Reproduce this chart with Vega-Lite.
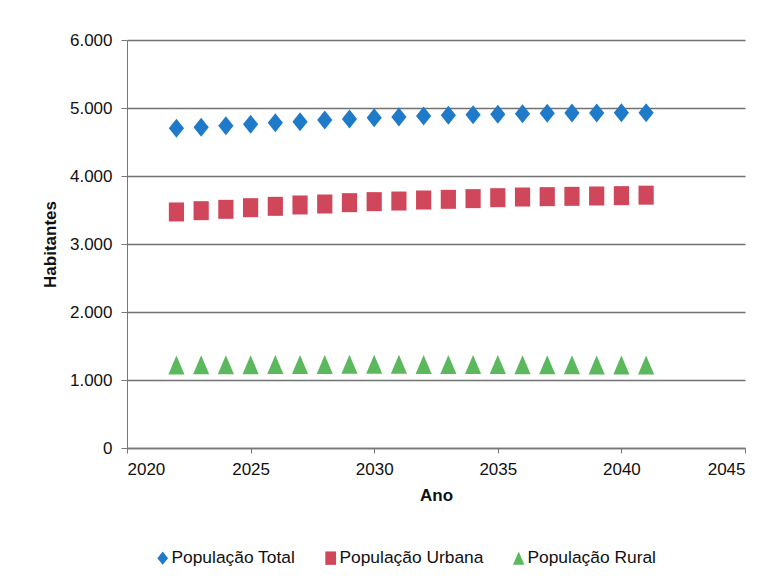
{
  "$schema": "https://vega.github.io/schema/vega-lite/v6.json",
  "autosize": {"type": "none"},
  "width": 618,
  "height": 408,
  "padding": {"left": 127, "top": 40, "right": 39, "bottom": 138},
  "background": "white",
  "config": {
    "view": {"stroke": null},
    "font": "Liberation Sans"
  },
  "data": {
    "values": [
      {"ano": 2022, "serie": "População Total", "valor": 4701},
      {"ano": 2023, "serie": "População Total", "valor": 4716},
      {"ano": 2024, "serie": "População Total", "valor": 4740},
      {"ano": 2025, "serie": "População Total", "valor": 4760},
      {"ano": 2026, "serie": "População Total", "valor": 4784},
      {"ano": 2027, "serie": "População Total", "valor": 4799},
      {"ano": 2028, "serie": "População Total", "valor": 4824},
      {"ano": 2029, "serie": "População Total", "valor": 4838},
      {"ano": 2030, "serie": "População Total", "valor": 4858},
      {"ano": 2031, "serie": "População Total", "valor": 4868},
      {"ano": 2032, "serie": "População Total", "valor": 4882},
      {"ano": 2033, "serie": "População Total", "valor": 4892},
      {"ano": 2034, "serie": "População Total", "valor": 4902},
      {"ano": 2035, "serie": "População Total", "valor": 4907},
      {"ano": 2036, "serie": "População Total", "valor": 4917},
      {"ano": 2037, "serie": "População Total", "valor": 4922},
      {"ano": 2038, "serie": "População Total", "valor": 4926},
      {"ano": 2039, "serie": "População Total", "valor": 4926},
      {"ano": 2040, "serie": "População Total", "valor": 4931},
      {"ano": 2041, "serie": "População Total", "valor": 4931},
      {"ano": 2022, "serie": "População Urbana", "valor": 3471},
      {"ano": 2023, "serie": "População Urbana", "valor": 3490},
      {"ano": 2024, "serie": "População Urbana", "valor": 3510},
      {"ano": 2025, "serie": "População Urbana", "valor": 3534},
      {"ano": 2026, "serie": "População Urbana", "valor": 3554},
      {"ano": 2027, "serie": "População Urbana", "valor": 3574},
      {"ano": 2028, "serie": "População Urbana", "valor": 3588},
      {"ano": 2029, "serie": "População Urbana", "valor": 3608},
      {"ano": 2030, "serie": "População Urbana", "valor": 3623},
      {"ano": 2031, "serie": "População Urbana", "valor": 3632},
      {"ano": 2032, "serie": "População Urbana", "valor": 3647},
      {"ano": 2033, "serie": "População Urbana", "valor": 3657},
      {"ano": 2034, "serie": "População Urbana", "valor": 3667},
      {"ano": 2035, "serie": "População Urbana", "valor": 3681},
      {"ano": 2036, "serie": "População Urbana", "valor": 3691},
      {"ano": 2037, "serie": "População Urbana", "valor": 3696},
      {"ano": 2038, "serie": "População Urbana", "valor": 3701},
      {"ano": 2039, "serie": "População Urbana", "valor": 3706},
      {"ano": 2040, "serie": "População Urbana", "valor": 3711},
      {"ano": 2041, "serie": "População Urbana", "valor": 3718},
      {"ano": 2022, "serie": "População Rural", "valor": 1222},
      {"ano": 2023, "serie": "População Rural", "valor": 1223},
      {"ano": 2024, "serie": "População Rural", "valor": 1225},
      {"ano": 2025, "serie": "População Rural", "valor": 1226},
      {"ano": 2026, "serie": "População Rural", "valor": 1227},
      {"ano": 2027, "serie": "População Rural", "valor": 1228},
      {"ano": 2028, "serie": "População Rural", "valor": 1229},
      {"ano": 2029, "serie": "População Rural", "valor": 1230},
      {"ano": 2030, "serie": "População Rural", "valor": 1230},
      {"ano": 2031, "serie": "População Rural", "valor": 1230},
      {"ano": 2032, "serie": "População Rural", "valor": 1229},
      {"ano": 2033, "serie": "População Rural", "valor": 1229},
      {"ano": 2034, "serie": "População Rural", "valor": 1228},
      {"ano": 2035, "serie": "População Rural", "valor": 1227},
      {"ano": 2036, "serie": "População Rural", "valor": 1226},
      {"ano": 2037, "serie": "População Rural", "valor": 1225},
      {"ano": 2038, "serie": "População Rural", "valor": 1224},
      {"ano": 2039, "serie": "População Rural", "valor": 1222},
      {"ano": 2040, "serie": "População Rural", "valor": 1221},
      {"ano": 2041, "serie": "População Rural", "valor": 1219}
    ]
  },
  "mark": {"type": "point", "filled": true, "size": 361, "opacity": 1},
  "encoding": {
    "x": {
      "field": "ano",
      "type": "quantitative",
      "scale": {"domain": [2020, 2045], "nice": false, "zero": false},
      "axis": {
        "title": "Ano",
        "values": [2020, 2025, 2030, 2035, 2040, 2045],
        "format": "d",
        "grid": false,
        "domainColor": "#777777",
        "domainWidth": 1.5,
        "tickColor": "#777777",
        "tickSize": 5,
        "labelFontSize": 17,
        "labelColor": "#111111",
        "labelPadding": 8,
        "titleFontSize": 17,
        "titleFontWeight": "bold",
        "titleColor": "#111111",
        "titlePadding": 10
      }
    },
    "y": {
      "field": "valor",
      "type": "quantitative",
      "scale": {"domain": [0, 6000], "nice": false},
      "axis": {
        "title": "Habitantes",
        "values": [0, 1000, 2000, 3000, 4000, 5000, 6000],
        "labelExpr": "replace(format(datum.value, ',d'), ',', '.')",
        "grid": true,
        "gridColor": "#727272",
        "gridWidth": 1.5,
        "domainColor": "#777777",
        "tickColor": "#777777",
        "tickSize": 6,
        "labelFontSize": 17,
        "labelColor": "#111111",
        "labelPadding": 9,
        "titleFontSize": 17,
        "titleFontWeight": "bold",
        "titleColor": "#111111",
        "titlePadding": 10
      }
    },
    "color": {
      "field": "serie",
      "type": "nominal",
      "scale": {
        "domain": ["População Total", "População Urbana", "População Rural"],
        "range": ["#1f7ac9", "#d0465a", "#5cb85c"]
      },
      "legend": {
        "title": null,
        "orient": "none",
        "legendX": 27,
        "legendY": 509,
        "direction": "horizontal",
        "labelFontSize": 17.4,
        "labelColor": "#111111",
        "symbolSize": 180,
        "symbolOpacity": 1,
        "labelOffset": 0,
        "columnPadding": 26
      }
    },
    "shape": {
      "field": "serie",
      "type": "nominal",
      "scale": {
        "domain": ["População Total", "População Urbana", "População Rural"],
        "range": ["M-0.8,0L0,-1L0.8,0L0,1Z", "M-0.8,-1H0.8V1H-0.8Z", "M-0.85,1L0,-1L0.85,1Z"]
      },
      "legend": null
    }
  }
}
